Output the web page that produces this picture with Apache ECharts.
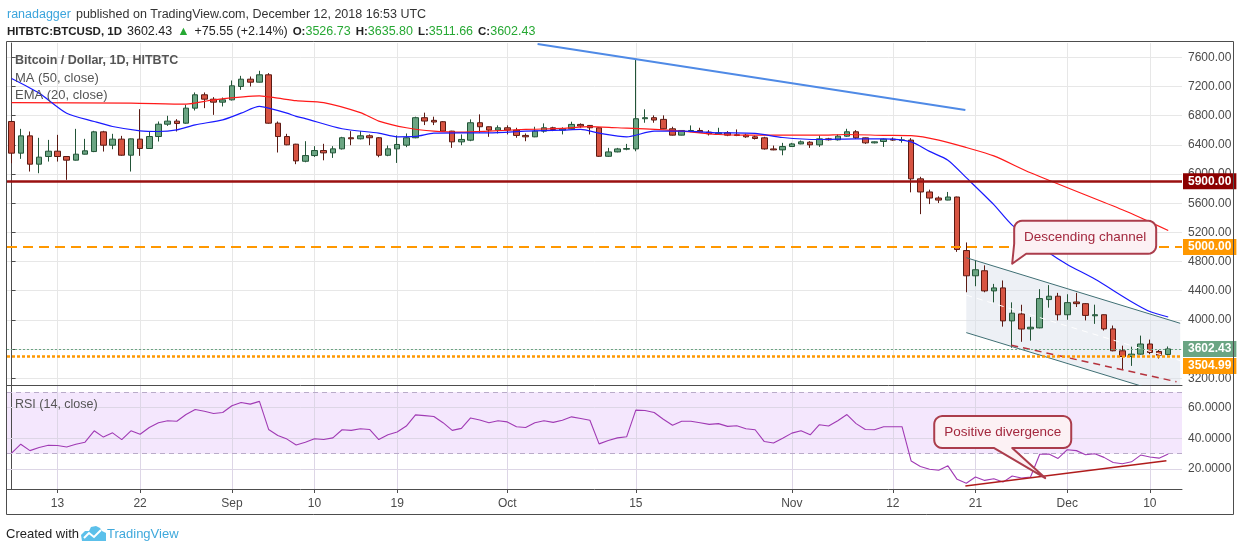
<!DOCTYPE html>
<html><head><meta charset="utf-8">
<script src="https://cdn.jsdelivr.net/npm/echarts@6/dist/echarts.min.js"></script>
<style>html,body{margin:0;padding:0;background:#fff;}#c{width:1240px;height:551px;}</style>
</head><body><div id="c"></div>
<script>
// ---------- DATA ----------
const dates = [
'08-08','08-09','08-10','08-11','08-12','08-13','08-14','08-15','08-16','08-17','08-18','08-19','08-20','08-21','08-22','08-23','08-24','08-25','08-26','08-27','08-28','08-29','08-30','08-31',
'09-01','09-02','09-03','09-04','09-05','09-06','09-07','09-08','09-09','09-10','09-11','09-12','09-13','09-14','09-15','09-16','09-17','09-18','09-19','09-20','09-21','09-22','09-23','09-24','09-25','09-26','09-27','09-28','09-29','09-30',
'10-01','10-02','10-03','10-04','10-05','10-06','10-07','10-08','10-09','10-10','10-11','10-12','10-13','10-14','10-15','10-16','10-17','10-18','10-19','10-20','10-21','10-22','10-23','10-24','10-25','10-26','10-27','10-28','10-29','10-30','10-31',
'11-01','11-02','11-03','11-04','11-05','11-06','11-07','11-08','11-09','11-10','11-11','11-12','11-13','11-14','11-15','11-16','11-17','11-18','11-19','11-20','11-21','11-22','11-23','11-24','11-25','11-26','11-27','11-28','11-29','11-30',
'12-01','12-02','12-03','12-04','12-05','12-06','12-07','12-08','12-09','12-10','12-11','12-12','12-13'];

const opens = [6720,6286,6523,6135,6240,6313,6240,6190,6272,6308, 6578,6395,6478,6258,6478,6350,6514,6683,6725,6697,
 6903,7086,7026,6985,7017,7200,7300,7259,7360,6697, 6514,6409,6175,6253,6322,6290,6345,6497,6483,6524,
 6497,6257,6345,6395,6497,6772,6736,6717,6588,6441, 6464,6703,6648,6602,6634,6602,6529,6510,6588,6634,
 6602,6621,6680,6666,6634,6243,6303,6340,6344,6758, 6772,6749,6620,6533,6584,6597,6574,6551,6565,6538,
 6533,6510,6496,6344,6331,6377,6413,6436,6400,6482, 6469,6519,6579,6496,6427,6446,6478,6460,6465,5934,
 5754,5671,5643,5685,4951,4605,4674,4398,4439,3987, 4082,3877,3891,4279,4325,4071,4246,4223,4057,4071,
 3877,3577,3499,3531,3670,3568,3526.73];
const closes = [6286,6523,6135,6231,6313,6240,6190,6272,6318,6578, 6395,6478,6258,6482,6350,6514,6683,6725,6693,6903,
 7086,7026,6985,7017,7209,7300,7259,7360,6697,6514, 6400,6180,6253,6322,6290,6345,6497,6483,6524,6497,
 6257,6345,6405,6497,6772,6726,6713,6588,6441,6474, 6703,6648,6602,6634,6602,6529,6510,6588,6634,6611,
 6621,6680,6657,6634,6243,6303,6344,6349,6758,6772, 6740,6620,6533,6597,6597,6574,6551,6565,6533,6528,
 6510,6487,6344,6331,6377,6413,6441,6400,6482,6469, 6519,6579,6496,6427,6441,6478,6465,6468,5934,5754,
 5671,5643,5685,4965,4605,4688,4398,4439,3987,4093, 3875,3900,4292,4325,4071,4237,4223,4062,4071,3877,
 3577,3499,3531,3670,3554,3517,3602.43];
const highs = [6729,6619,6583,6496,6468,6537,6245,6619,6482,6592, 6592,6551,6523,6486,6889,6583,6720,6798,6752,6949,
 7118,7118,7054,7049,7282,7346,7337,7415,7383,6720, 6551,6414,6450,6382,6414,6382,6510,6588,6588,6543,
 6505,6391,6529,6556,6786,6841,6786,6725,6592,6543, 6749,6818,6652,6667,6667,6634,6556,6648,6694,6648,
 6640,6717,6694,6672,6640,6358,6358,6413,7568,6887, 6804,6804,6648,6600,6666,6634,6602,6634,6588,6611,
 6551,6528,6510,6390,6427,6427,6459,6450,6528,6496, 6542,6620,6602,6500,6446,6487,6501,6510,6492,5962,
 5786,5694,5754,5690,5062,4817,4748,4494,4541,4241, 4208,4039,4422,4477,4371,4352,4371,4232,4209,4075,
 3923,3647,3633,3785,3730,3587,3635.80];
const lows = [6148,6208,6034,6011,6171,6171,5920,6185,6268,6300, 6308,6340,6250,6034,6249,6345,6446,6660,6583,6690,
 6871,6903,6811,6926,7008,7154,7200,7255,6690,6295, 6395,6135,6161,6234,6188,6221,6336,6395,6474,6395,
 6230,6244,6152,6368,6490,6671,6671,6580,6359,6395, 6450,6566,6510,6556,6543,6497,6450,6505,6566,6588,
 6543,6611,6634,6542,6234,6234,6298,6326,6312,6703, 6703,6615,6528,6530,6574,6565,6528,6542,6519,6519,
 6496,6473,6335,6326,6257,6372,6408,6358,6372,6459, 6459,6510,6482,6413,6420,6372,6455,6430,5749,5450,
 5588,5602,5640,4933,4379,4462,4379,4241,3908,3618, 3700,3716,3885,4168,3993,4002,4177,3993,3946,3854,
 3570,3314,3370,3525,3531,3471,3511.66];

// moving averages (date, value)
const ema20 = [['08-08',7310],['08-11',7109],['08-14',6834],['08-17',6720],['08-19',6651],['08-22',6592],['08-24',6583],
 ['08-26',6606],['08-28',6674],['08-31',6743],['09-02',6834],['09-04',6926],['09-05',6903],['09-07',6834],['09-08',6790],
 ['09-09',6760],['09-13',6621],['09-17',6560],['09-19',6510],['09-21',6515],['09-23',6560],['09-26',6565],['09-29',6565],
 ['10-03',6588],['10-07',6602],['10-09',6611],['10-11',6560],['10-14',6510],['10-17',6588],['10-20',6588],['10-24',6565],
 ['10-28',6556],['10-31',6501],['11-04',6473],['11-08',6482],['11-11',6482],['11-14',6440],['11-16',6310],['11-18',6190],
 ['11-20',5950],['11-23',5580],['11-25',5300],['11-29',4920],['12-01',4760],['12-04',4560],['12-08',4250],['12-10',4115],['12-12',4040]];
const ma50 = [['08-08',6980],['08-21',6971],['08-27',6958],['08-30',7017],['09-04',7072],['09-06',7040],['09-08',7005],
 ['09-11',6979],['09-15',6841],['09-17',6726],['09-20',6634],['09-23',6588],['09-26',6575],['09-29',6588],['10-03',6611],
 ['10-07',6625],['10-10',6650],['10-13',6634],['10-16',6620],['10-20',6588],['10-24',6542],['10-27',6533],['10-31',6533],
 ['11-04',6533],['11-07',6542],['11-11',6530],['11-14',6525],['11-17',6465],['11-20',6363],['11-23',6248],['11-27',6017],
 ['12-07',5510],['12-09',5400],['12-12',5225]];

const rsi = [30.4,36.2,32.0,34.0,35.5,35.3,34.4,36.2,37.5,44.9, 40.8,43.6,39.2,44.9,42.7,47.1,50.2,51.5,51.1,55.5,
 58.8,57.7,56.2,56.8,61.2,63.4,62.3,64.1,45.8,41.9, 39.5,35.7,37.5,39.7,39.2,40.3,45.6,45.2,46.3,45.8,
 39.2,42.3,44.1,48.0,55.3,54.8,54.2,50.2,45.2,46.5, 53.3,52.0,50.2,51.5,50.7,47.6,47.1,50.2,51.5,50.4,
 51.8,54.0,52.9,51.8,36.4,38.6,40.3,41.0,58.4,58.1, 56.8,52.4,48.5,51.1,51.1,50.2,49.1,49.6,47.8,48.2,
 46.3,45.6,37.9,37.0,40.1,43.4,44.9,42.3,48.9,48.0, 51.5,55.5,49.6,45.8,45.6,47.6,47.6,47.6,25.2,21.6,
 19.9,19.2,22.1,13.3,10.7,14.8,12.6,13.7,11.5,15.5, 14.2,14.8,29.6,29.8,26.9,32.6,32.0,29.3,30.0,27.6,
 24.3,23.4,24.7,29.1,27.8,27.1,29.8];

// drawn annotations: [day offset from Aug 8, value]
const blueTrend   = [[57.3, 7782], [103.9, 6878]];
const channelTop  = [[104.0, 4853], [127.3, 3954]];
const channelMid  = [[104.0, 4340], [127.3, 3443]];
const channelBot  = [[104.0, 3826], [127.3, 2931]];
const supportDash = [[108.9, 3654], [126.9, 3153]];
const rsiDiverge  = [[103.9, 8.9], [125.8, 25.4]];
const channelNote = {text:'Descending channel', tip:[109, 4770]};
const divergeNote = {text:'Positive divergence', tip:[112.6, 14.1]};

const levels = [5900, 5000, 3602.43, 3504.99];
const priceTicks = [3200,3600,4000,4400,4800,5200,5600,6000,6400,6800,7200,7600];
const rsiTicks = [20,40,60];
const tickDates  = ['08-13','08-22','09-01','09-10','09-19','10-01','10-15','11-01','11-12','11-21','12-01','12-10'];
const tickLabels = ['13','22','Sep','10','19','Oct','15','Nov','12','21','Dec','10'];

// ---------- CHART ----------
const FONT = "'Liberation Sans', Arial, sans-serif";
const chart = echarts.init(document.getElementById('c'), null, {renderer:'canvas', width:1240, height:551});
const idx = d => dates.indexOf(d);
const candleData = opens.map((o,i)=>[o, closes[i], lows[i], highs[i]]);
const tickIdx = new Set(tickDates.map(idx));
const labelOf = {}; tickDates.forEach((d,k)=>labelOf[d]=tickLabels[k]);
const N = dates.length;
const axisCol = '#4d4d4d', gridCol = '#e7e7e7', txtCol = '#4a4a4a';

const levelStyles = [
  {lc:'#9a1010', w:2.5, t:'solid', bg:'#8c0000', off:[0,0]},
  {lc:'#ff9800', w:2, t:[10,6], bg:'#ff9800', off:[0,0]},
  {lc:'#6ba583', w:1, t:[2,2], bg:'#6ba583', off:[0,0]},
  {lc:'#ff9800', w:2.5, t:[3,2], bg:'#ff9800', off:[0,10]}
];
const fs = 12.5;
const option = {
  animation:false,
  backgroundColor:'#fff',
  title:[
    {left:7, top:6, padding:0, text:'{u|ranadagger} {t|published on TradingView.com, December 12, 2018 16:53 UTC}',
      textStyle:{fontWeight:'normal', rich:{u:{color:'#3ba4dc', fontSize:fs, fontWeight:'normal', fontFamily:FONT}, t:{color:'#333', fontSize:fs, fontWeight:'normal', fontFamily:FONT}}}},
    {left:7, top:23, padding:0, text:'{b|HITBTC:BTCUSD, 1D} {n|3602.43} {g|\u25B2} {n|+75.55 (+2.14%)} {b|O:}{g|3526.73} {b|H:}{g|3635.80} {b|L:}{g|3511.66} {b|C:}{g|3602.43}',
      textStyle:{fontWeight:'normal', rich:{b:{color:'#222', fontWeight:'bold', fontSize:11.5, fontFamily:FONT}, n:{color:'#222', fontWeight:'normal', fontSize:fs, fontFamily:FONT}, g:{color:'#26a833', fontWeight:'normal', fontSize:fs, fontFamily:FONT}}}}
  ],
  grid:[{left:7, top:43, width:1175, height:342}, {left:7, top:386, width:1175, height:103}],
  xAxis:[
    {type:'category', gridIndex:0, data:dates, boundaryGap:true, axisLine:{show:true, lineStyle:{color:axisCol}}, axisTick:{show:false}, axisLabel:{show:false}, splitLine:{show:false}},
    {type:'value', gridIndex:0, min:-0.5, max:N-0.5, show:false},
    {type:'category', gridIndex:1, data:dates, boundaryGap:true, axisLine:{show:true, lineStyle:{color:axisCol}},
      axisTick:{show:true, alignWithLabel:true, interval:(i)=>tickIdx.has(i), length:4, lineStyle:{color:axisCol}},
      axisLabel:{interval:(i)=>tickIdx.has(i), formatter:(v)=>labelOf[v]||'', color:txtCol, fontSize:12, margin:9, fontFamily:FONT},
      splitLine:{show:false}},
    {type:'value', gridIndex:1, min:-0.5, max:N-0.5, show:false}
  ],
  yAxis:[
    {type:'value', gridIndex:0, position:'right', min:3108, max:7796,
      axisLine:{show:true, lineStyle:{color:axisCol}}, axisTick:{show:true, length:4, customValues:priceTicks, lineStyle:{color:axisCol}},
      axisLabel:{customValues:priceTicks, formatter:(v)=>v.toFixed(2), color:txtCol, fontSize:12, margin:6, fontFamily:FONT}, splitLine:{show:false}},
    {type:'value', gridIndex:1, position:'right', min:7.0, max:74.1,
      axisLine:{show:true, lineStyle:{color:axisCol}}, axisTick:{show:true, length:4, customValues:rsiTicks, lineStyle:{color:axisCol}},
      axisLabel:{customValues:rsiTicks, formatter:(v)=>v.toFixed(4), color:txtCol, fontSize:12, margin:6, fontFamily:FONT}, splitLine:{show:false}}
  ],
  series:[
    {type:'line', xAxisIndex:0, yAxisIndex:0, data:dates.map(()=>'-'), silent:true, symbol:'none', lineStyle:{opacity:0},
      markLine:{silent:true, symbol:'none', z:0, animation:false, label:{show:false}, lineStyle:{color:gridCol, width:1, type:'solid'},
        data:[...tickDates.map(d=>({xAxis:d})), ...priceTicks.map(v=>({yAxis:v}))]}},
    {type:'custom', xAxisIndex:1, yAxisIndex:0, z:1, silent:true, clip:true,
      data:[[channelTop[0][0], channelTop[0][1]]],
      renderItem:(params, api)=>{
        const cs = params.coordSys;
        const pts = [channelTop[0], channelTop[1], channelBot[1], channelBot[0]].map(p=>api.coord(p));
        return {type:'polygon', shape:{points:pts}, style:{fill:'rgba(215,222,232,0.45)'},
          clipPath:{type:'rect', shape:{x:cs.x, y:cs.y, width:cs.width, height:cs.height}}};
      }},
    {type:'candlestick', xAxisIndex:0, yAxisIndex:0, z:2, data:candleData, barWidth:6,
      itemStyle:{color:'#6ba583', color0:'#d75442', borderColor:'#225437', borderColor0:'#5b1a13', borderWidth:1},
      markLine:{silent:true, symbol:'none', animation:false,
        data: levels.map((v,k)=>({yAxis:v, lineStyle:{color:levelStyles[k].lc, width:levelStyles[k].w, type:levelStyles[k].t},
          label:{show:true, position:'end', distance:1, formatter:v.toFixed(2), color:'#fff', fontWeight:'bold', fontSize:12, fontFamily:FONT,
            backgroundColor:levelStyles[k].bg, padding:[2,5,2,5], offset:levelStyles[k].off}}))}},
    {type:'line', name:'MA50', xAxisIndex:1, yAxisIndex:0, z:3, symbol:'none', smooth:0.25, data:ma50.map(([d,v])=>[idx(d),v]), lineStyle:{color:'#ff1a1a', width:1.2}},
    {type:'line', name:'EMA20', xAxisIndex:1, yAxisIndex:0, z:3, symbol:'none', smooth:0.25, data:ema20.map(([d,v])=>[idx(d),v]), lineStyle:{color:'#1a1aff', width:1.2}},
    {type:'line', xAxisIndex:1, yAxisIndex:0, z:4, symbol:'none', data:blueTrend, lineStyle:{color:'#4f8ae6', width:2}},
    {type:'line', xAxisIndex:1, yAxisIndex:0, z:4, symbol:'none', data:channelTop, lineStyle:{color:'#3f6f74', width:1}},
    {type:'line', xAxisIndex:1, yAxisIndex:0, z:4, symbol:'none', data:channelBot, lineStyle:{color:'#3f6f74', width:1}},
    {type:'line', xAxisIndex:1, yAxisIndex:0, z:4, symbol:'none', data:channelMid, lineStyle:{color:'#ffffff', width:1, type:[6,5]}},
    {type:'line', xAxisIndex:1, yAxisIndex:0, z:4, symbol:'none', data:supportDash, lineStyle:{color:'#b5323c', width:1.5, type:[7,5]}},
    {type:'line', xAxisIndex:2, yAxisIndex:1, data:dates.map(()=>'-'), silent:true, symbol:'none', lineStyle:{opacity:0},
      markLine:{silent:true, symbol:'none', z:1, animation:false, label:{show:false}, lineStyle:{color:'#ddd6e6', width:1, type:'solid'},
        data:[...tickDates.map(d=>({xAxis:d})), ...rsiTicks.map(v=>({yAxis:v}))]}},
    {type:'line', xAxisIndex:2, yAxisIndex:1, z:3, symbol:'none', data:rsi, lineStyle:{color:'#a03ab4', width:1.1},
      markArea:{silent:true, z:0, itemStyle:{color:'#f4e7fd'}, data:[[{yAxis:30},{yAxis:70}]]},
      markLine:{silent:true, symbol:'none', z:1, animation:false, label:{show:false}, lineStyle:{color:'#b9abc9', width:1, type:[5,4]},
        data:[{yAxis:70},{yAxis:30}]}},
    {type:'line', xAxisIndex:3, yAxisIndex:1, z:4, symbol:'none', data:rsiDiverge, lineStyle:{color:'#b01c1c', width:1.5}}
  ]
};
chart.setOption(option);

// ---------- annotations / decorations ----------
function arcPts(cx, cy, r, a0, a1){
  const out = [];
  for (let k=0;k<=6;k++){ const a=(a0+(a1-a0)*k/6)*Math.PI/180; out.push([cx+r*Math.cos(a), cy+r*Math.sin(a)]); }
  return out;
}
function calloutPts(bx, by, w, h, r, tail, tip){
  const R = bx+w, B = by+h;
  let pts = [];
  pts = pts.concat(arcPts(bx+r, by+r, r, 180, 270));
  pts = pts.concat(arcPts(R-r, by+r, r, 270, 360));
  pts = pts.concat(arcPts(R-r, B-r, r, 0, 90));
  if (tail === 'left') {
    pts.push([bx+12, B], [tip[0], tip[1]], [bx, B-10]);
  } else {
    pts.push([bx+78, B], [tip[0], tip[1]], [bx+60, B]);
    pts = pts.concat(arcPts(bx+r, B-r, r, 90, 180));
  }
  return pts;
}
const t1 = chart.convertToPixel({xAxisIndex:1, yAxisIndex:0}, channelNote.tip);
const t2 = chart.convertToPixel({xAxisIndex:3, yAxisIndex:1}, divergeNote.tip);
const b1 = {x:t1[0]+2, y:t1[1]-43, w:142, h:33};
const b2 = {x:t2[0]-111, y:t2[1]-62, w:137, h:32};
const calloutStroke = '#ab3d4c', calloutFill = '#fcf1f4', calloutText = '#a3283e';

chart.setOption({graphic:[
  {type:'rect', shape:{x:6.5, y:41.5, width:1227, height:473}, style:{fill:'none', stroke:'#4d4d4d', lineWidth:1}, silent:true, z:100},
  {type:'text', style:{x:15, y:61, text:'Bitcoin / Dollar, 1D, HITBTC', font:'bold 12.5px '+FONT, fill:'#555', verticalAlign:'middle'}, z:100},
  {type:'text', style:{x:15, y:78, text:'MA (50, close)', font:'13px '+FONT, fill:'#555', verticalAlign:'middle'}, z:100},
  {type:'text', style:{x:15, y:95, text:'EMA (20, close)', font:'13px '+FONT, fill:'#555', verticalAlign:'middle'}, z:100},
  {type:'text', style:{x:15, y:405, text:'RSI (14, close)', font:'12.5px '+FONT, fill:'#555', verticalAlign:'middle'}, z:100},
  {type:'polygon', shape:{points:calloutPts(b1.x, b1.y, b1.w, b1.h, 8, 'left', t1)}, style:{fill:calloutFill, stroke:calloutStroke, lineWidth:2, lineJoin:'round'}, z:100},
  {type:'text', style:{x:b1.x+b1.w/2, y:b1.y+b1.h/2, text:channelNote.text, font:'13.5px '+FONT, fill:calloutText, align:'center', verticalAlign:'middle'}, z:101},
  {type:'polygon', shape:{points:calloutPts(b2.x, b2.y, b2.w, b2.h, 8, 'bottom', t2)}, style:{fill:calloutFill, stroke:calloutStroke, lineWidth:2, lineJoin:'round'}, z:100},
  {type:'text', style:{x:b2.x+b2.w/2, y:b2.y+b2.h/2, text:divergeNote.text, font:'13.5px '+FONT, fill:calloutText, align:'center', verticalAlign:'middle'}, z:101},
  {type:'text', style:{x:6, y:534, text:'Created with', font:'13px '+FONT, fill:'#222', verticalAlign:'middle'}, z:100},
  {type:'polygon', shape:{points:[[82,541],[81,535],[85,531],[89,531],[91,527],[96,526],[100,528],[102,531],[106,533],[106,541]]}, style:{fill:'#5cc0ea'}, z:100},
  {type:'polyline', shape:{points:[[84,538],[89,533],[94,537],[101,530]]}, style:{stroke:'#fff', lineWidth:2, fill:'none'}, z:101},
  {type:'text', style:{x:107, y:534, text:'TradingView', font:'13px '+FONT, fill:'#3fa9dc', verticalAlign:'middle'}, z:100}
]});
</script>
</body></html>
